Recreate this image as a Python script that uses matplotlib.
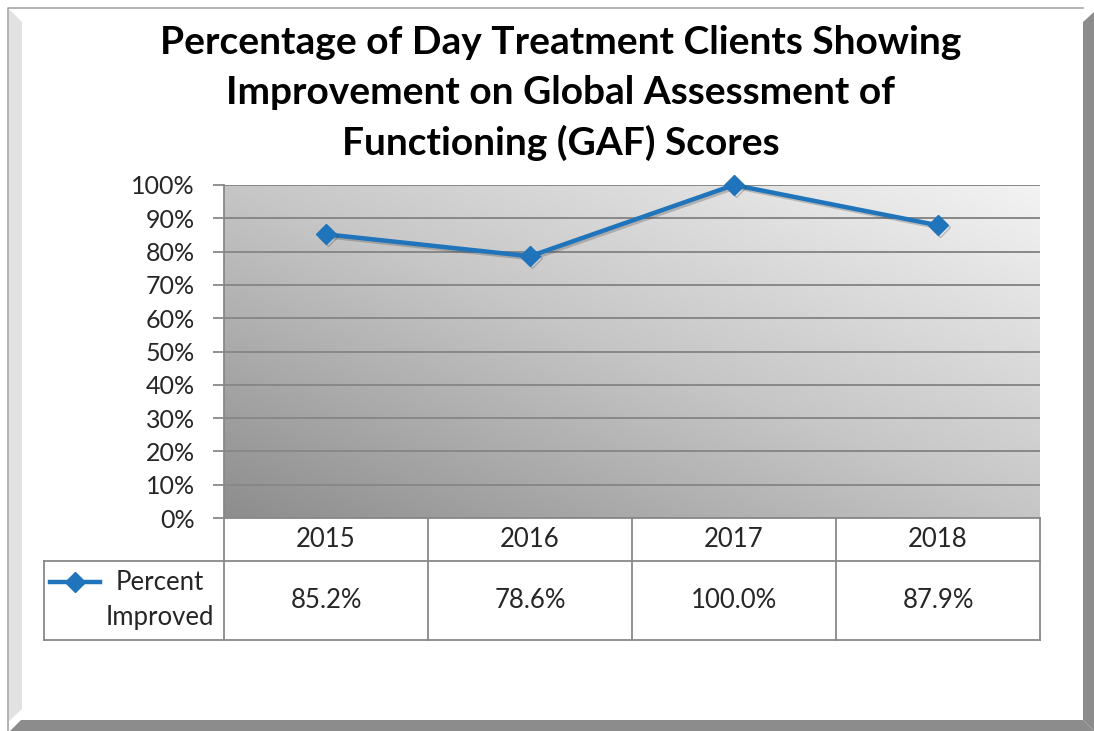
import numpy as np
import matplotlib
matplotlib.use("Agg")
import matplotlib.pyplot as plt
import matplotlib.patheffects as pe
from matplotlib.colors import LinearSegmentedColormap
from matplotlib.patches import Polygon

# data
years = ["2015", "2016", "2017", "2018"]
percent_improved = [0.852, 0.786, 1.000, 0.879]
value_labels = ["85.2%", "78.6%", "100.0%", "87.9%"]
y_ticks = [0.0, 0.1, 0.2, 0.3, 0.4, 0.5, 0.6, 0.7, 0.8, 0.9, 1.0]
y_tick_labels = ["0%", "10%", "20%", "30%", "40%", "50%", "60%", "70%", "80%", "90%", "100%"]
series_name = ["Percent", "Improved"]
title_lines = ["Percentage of Day Treatment Clients Showing",
               "Improvement on Global Assessment of",
               "Functioning (GAF) Scores"]

matplotlib.rcParams['font.family'] = ["Lato", "DejaVu Sans"]

W, H = 1094, 731
blue = "#1f74bb"
grid_col = "#888888"
text_col = "#262626"


def box(x0, y0, x1, y1):
    # pixel box (top-left origin) -> figure fraction rect
    return [x0 / W, 1 - y1 / H, (x1 - x0) / W, (y1 - y0) / H]


fig = plt.figure(figsize=(W / 100, H / 100), dpi=100)
fig.patch.set_facecolor("white")

# frame around the chart, drawn in pixel coordinates
bg = fig.add_axes([0, 0, 1, 1], zorder=0)
bg.set_xlim(0, W)
bg.set_ylim(H, 0)
bg.axis("off")
bg.add_patch(Polygon([(9, 9), (22, 22), (22, 709), (9, 721)], closed=True,
                     facecolor="#e2e2e2", edgecolor="none"))
bg.add_patch(Polygon([(1083, 22), (1094, 12), (1094, 731), (1083, 720)], closed=True,
                     facecolor="#8c8c8c", edgecolor="none"))
bg.add_patch(Polygon([(10, 731), (21, 720), (1083, 720), (1094, 731)], closed=True,
                     facecolor="#8c8c8c", edgecolor="none"))
bg.plot([8, 8, 1083], [731, 8, 8], color="#a6a6a6", lw=1.2)

for i, line in enumerate(title_lines):
    bg.text(561, 54 + 50.5 * i, line, ha="center", va="baseline",
            fontsize=28, fontweight="bold", color="black")

# plot area
ax = fig.add_axes(box(224, 185, 1040, 518), zorder=2)
ax.set_xlim(-0.5, len(years) - 0.5)
ax.set_ylim(0, 1)

grad_cmap = LinearSegmentedColormap.from_list("panel", ["#8d8d8d", "#c6c6c6", "#f3f3f3"])
gx, gy = np.meshgrid(np.linspace(0, 1, 256), np.linspace(0, 1, 256))
ax.imshow((gx + gy) / 2, cmap=grad_cmap, origin="lower", aspect="auto",
          extent=(-0.5, len(years) - 0.5, 0, 1), zorder=0, interpolation="bilinear")

for t in y_ticks:
    ax.axhline(t, color=grid_col, lw=1.4, zorder=1)

ax.set_yticks(y_ticks)
ax.set_yticklabels(y_tick_labels, fontsize=18, color=text_col)
ax.tick_params(axis="y", length=8, width=1.3, color=grid_col, pad=13)
ax.set_xticks([])
for s in ["top", "right", "bottom"]:
    ax.spines[s].set_visible(False)
ax.spines["left"].set_color(grid_col)
ax.spines["left"].set_linewidth(1.3)

xs = np.arange(len(years))
ax.plot(xs, percent_improved, color=blue, lw=3.2, marker="D", markersize=10,
        zorder=3, clip_on=False,
        path_effects=[pe.SimpleLineShadow(offset=(1.5, -1.5), alpha=0.25, shadow_color="#303030"),
                      pe.Normal()])

# data table under the plot
tax = fig.add_axes(box(224, 518, 1040, 640), zorder=1)
tax.set_xlim(-0.5, len(years) - 0.5)
tax.set_ylim(0, 1)
tax.axis("off")
sep = 79 / 122
edges = np.arange(len(years) + 1) - 0.5
for e in edges:
    tax.plot([e, e], [0, 1], color=grid_col, lw=1.3, clip_on=False)
tax.plot([edges[0], edges[-1]], [1, 1], color=grid_col, lw=1.3, clip_on=False)
for i, (yr, lab) in enumerate(zip(years, value_labels)):
    tax.text(i, (1 + sep) / 2, yr, ha="center", va="center", fontsize=18.5, color=text_col)
    tax.text(i, sep / 2, lab, ha="center", va="center", fontsize=18.5, color=text_col)

# legend cell to the left of the table
bg.plot([44, 1040], [561, 561], color=grid_col, lw=1.3, zorder=1)
bg.plot([44, 1040], [640, 640], color=grid_col, lw=1.3, zorder=1)
bg.plot([44, 44], [561, 640], color=grid_col, lw=1.3, zorder=1)
bg.plot([50, 75, 100], [582, 582, 582], color=blue, lw=3.2, marker="D", markersize=10,
        markevery=[1], zorder=2)
bg.text(160, 582, series_name[0], ha="center", va="center", fontsize=18.5, color=text_col)
bg.text(160, 617, series_name[1], ha="center", va="center", fontsize=18.5, color=text_col)

fig.savefig("out.png", dpi=100)
